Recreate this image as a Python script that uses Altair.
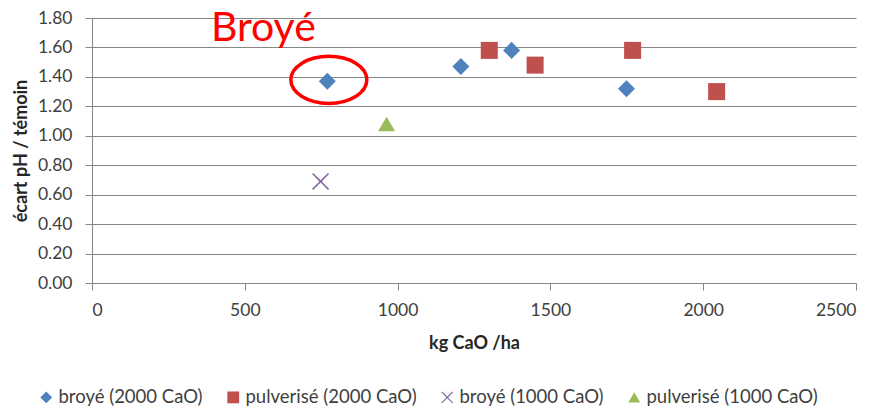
import altair as alt
import pandas as pd

# Series: CaO dose applied (kg/ha) and pH gap against the control plot
series_names = [
    "broyé (2000 CaO)",
    "pulverisé (2000 CaO)",
    "broyé (1000 CaO)",
    "pulverisé (1000 CaO)",
]
broye_2000_x = [770, 1207, 1373, 1749]
broye_2000_y = [1.37, 1.47, 1.58, 1.32]
pulv_2000_x = [1300, 1450, 1769, 2044]
pulv_2000_y = [1.58, 1.48, 1.58, 1.30]
broye_1000_x = [748]
broye_1000_y = [0.69]
pulv_1000_x = [964]
pulv_1000_y = [1.08]

x_ticks = [0, 500, 1000, 1500, 2000, 2500]
y_ticks = [0.0, 0.2, 0.4, 0.6, 0.8, 1.0, 1.2, 1.4, 1.6, 1.8]

# Highlight around the first crushed-lime point
highlight_label = "Broyé"
highlight_x = [775]
highlight_y = [1.38]
label_x = [389]
label_y = [1.647]

colors = ["#4F81BD", "#C0504D", "#8064A2", "#9BBB59"]
# thin "x" marker drawn as a filled polygon (unit square coordinates)
X_PATH = ("M-1,-0.87L-0.87,-1L0,-0.13L0.87,-1L1,-0.87L0.13,0L1,0.87"
          "L0.87,1L0,0.13L-0.87,1L-1,0.87L-0.13,0Z")
shapes = ["diamond", "square", X_PATH, "triangle-up"]
ELLIPSE_PATH = "M-1,0A1,0.62,0,1,1,1,0A1,0.62,0,1,1,-1,0Z"

rows = []
for name, xs, ys in zip(
    series_names,
    [broye_2000_x, pulv_2000_x, broye_1000_x, pulv_1000_x],
    [broye_2000_y, pulv_2000_y, broye_1000_y, pulv_1000_y],
):
    for xv, yv in zip(xs, ys):
        rows.append({"dose": xv, "ecart": yv, "serie": name})
points_df = pd.DataFrame(rows)

ring_df = pd.DataFrame({"dose": highlight_x, "ecart": highlight_y})
label_df = pd.DataFrame({"dose": label_x, "ecart": label_y, "txt": [highlight_label]})

FONT = "Lato"
GRAY = "#868686"

x_enc = alt.X(
    "dose:Q",
    scale=alt.Scale(domain=[0, 2500], nice=False),
    axis=alt.Axis(
        values=x_ticks,
        grid=False,
        format="d",
        labelOverlap=False,
        title="kg CaO /ha",
        titleFont=FONT,
        titleFontSize=18,
        titleFontWeight="bold",
        titleColor="#262626",
        titleX=382,
        titleY=60,
        titleBaseline="middle",
        titleAlign="center",
        labelFont=FONT,
        labelFontSize=17.5,
        labelColor="#404040",
        labelPadding=11,
        tickSize=7,
        tickColor=GRAY,
        domainColor=GRAY,
    ),
)
y_enc = alt.Y(
    "ecart:Q",
    scale=alt.Scale(domain=[0, 1.8], nice=False),
    axis=alt.Axis(
        values=y_ticks,
        format=".2f",
        grid=True,
        gridColor=GRAY,
        gridWidth=1,
        labelOverlap=False,
        title="écart pH / témoin",
        titleFont=FONT,
        titleFontSize=18,
        titleFontWeight="bold",
        titleColor="#262626",
        titleAngle=270,
        titleX=-71,
        titleY=132.5,
        titleBaseline="middle",
        titleAlign="center",
        labelFont=FONT,
        labelFontSize=17.5,
        labelColor="#404040",
        labelPadding=13,
        tickSize=7,
        tickColor=GRAY,
        domainColor=GRAY,
    ),
)

points = (
    alt.Chart(points_df)
    .mark_point(filled=True, opacity=1, size=290, strokeWidth=0)
    .encode(
        x=x_enc,
        y=y_enc,
        color=alt.Color(
            "serie:N",
            scale=alt.Scale(domain=series_names, range=colors),
            legend=alt.Legend(
                title=None,
                orient="none",
                legendX=-55,
                legendY=370,
                direction="horizontal",
                columns=4,
                columnPadding=21,
                labelOffset=3,
                labelLimit=400,
                labelFont=FONT,
                labelFontSize=18.5,
                labelColor="#404040",
                symbolSize=140,
                symbolStrokeWidth=0,
                padding=0,
            ),
        ),
        shape=alt.Shape(
            "serie:N",
            scale=alt.Scale(domain=series_names, range=shapes),
        ),
    )
)

ring = (
    alt.Chart(ring_df)
    .mark_point(
        shape=ELLIPSE_PATH,
        filled=False,
        size=5776,
        stroke="#FF0000",
        strokeWidth=3.5,
        opacity=1,
    )
    .encode(x=x_enc, y=y_enc)
)

label = (
    alt.Chart(label_df)
    .mark_text(
        font=FONT,
        fontSize=41,
        color="#FF0000",
        align="left",
        baseline="alphabetic",
    )
    .encode(x=x_enc, y=y_enc, text="txt:N")
)

chart = (
    alt.layer(points, ring, label)
    .properties(
        width=764,
        height=265,
        autosize=alt.AutoSizeParams(type="none"),
        padding={"left": 92, "top": 18, "right": 25, "bottom": 128},
        background="white",
    )
    .configure_view(stroke=None)
)

chart.save("out.html", embed_options={"renderer": "svg", "actions": False})
